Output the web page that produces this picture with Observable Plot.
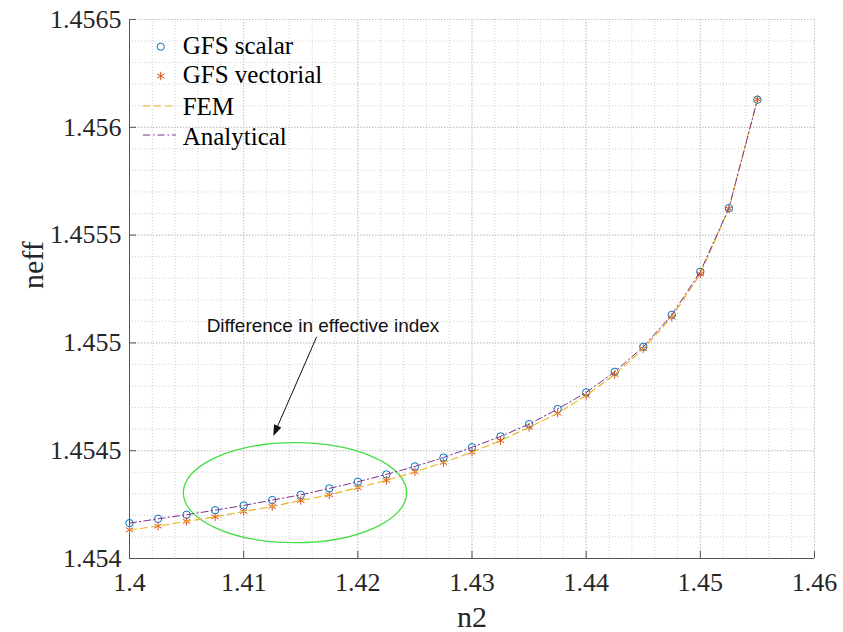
<!DOCTYPE html>
<html><head><meta charset="utf-8">
<script src="https://cdn.jsdelivr.net/npm/d3@7"></script>
<script src="https://cdn.jsdelivr.net/npm/@observablehq/plot@0.6"></script>
<style>body{margin:0;background:#fff} #chart{position:relative;width:843px;height:632px}</style>
</head><body><div id="chart"></div>
<script>
// ---- data ----
const n2 = [1.4, 1.4025, 1.405, 1.4075, 1.41, 1.4125, 1.415, 1.4175, 1.42, 1.4225, 1.425, 1.4275,
            1.43, 1.4325, 1.435, 1.4375, 1.44, 1.4425, 1.445, 1.4475, 1.45, 1.4525, 1.455];
const neffScalar = [1.454164, 1.454184, 1.454203, 1.454224, 1.454246, 1.454271, 1.454295, 1.454325,
                    1.454356, 1.454390, 1.454427, 1.454468, 1.454516, 1.454566, 1.454623, 1.454693,
                    1.454770, 1.454866, 1.454982, 1.455130, 1.455330, 1.455625, 1.456128];
const neffVectorial = [1.454133, 1.454150, 1.454172, 1.454193, 1.454218, 1.454241, 1.454269, 1.454295,
                       1.454329, 1.454362, 1.454402, 1.454445, 1.454493, 1.454547, 1.454608, 1.454674,
                       1.454756, 1.454853, 1.454973, 1.455119, 1.455320, 1.455622, 1.456130];
const neffFEM = [1.454133, 1.454150, 1.454172, 1.454193, 1.454218, 1.454241, 1.454269, 1.454295,
                 1.454329, 1.454362, 1.454402, 1.454445, 1.454493, 1.454547, 1.454608, 1.454674,
                 1.454756, 1.454853, 1.454973, 1.455119, 1.455320, 1.455622, 1.456130];
const neffAnalytical = [1.454164, 1.454184, 1.454203, 1.454224, 1.454246, 1.454271, 1.454295, 1.454325,
                        1.454356, 1.454390, 1.454427, 1.454468, 1.454516, 1.454566, 1.454623, 1.454693,
                        1.454770, 1.454866, 1.454982, 1.455130, 1.455330, 1.455625, 1.456128];
const xTicks = [1.4, 1.41, 1.42, 1.43, 1.44, 1.45, 1.46];
const yTicks = [1.454, 1.4545, 1.455, 1.4555, 1.456, 1.4565];
const xTickLabels = ["1.4", "1.41", "1.42", "1.43", "1.44", "1.45", "1.46"];
const yTickLabels = ["1.454", "1.4545", "1.455", "1.4555", "1.456", "1.4565"];
const seriesNames = ["GFS scalar", "GFS vectorial", "FEM", "Analytical"];
const annotationText = "Difference in effective index";
const ellipseCenter = [1.41454, 1.454303];
const ellipseRadii = [0.00978, 0.000232];
const arrowFrom = [1.41644, 1.455026];
const arrowTo = [1.41264, 1.454566];
const annotationPos = [1.41695, 1.455081];

// ---- build ----
const rows = n2.map((x, i) => ({x, scalar: neffScalar[i], vectorial: neffVectorial[i], fem: neffFEM[i], analytical: neffAnalytical[i]}));
const serif = "'Liberation Serif','Times New Roman',serif";
const sans = "'Liberation Sans',Arial,sans-serif";
const C = {scalar: "#0072BD", vectorial: "#D95319", fem: "#EDB120", analytical: "#7E2F8E"};
const W = 843, H = 632, ML = 129, MR = 29, MT = 19, MB = 74;
const FW = W - ML - MR, FH = H - MT - MB;
const xMinor = d3.range(0, 31).map(i => 1.4 + i * 0.002);
const yMinor = d3.range(0, 26).map(i => 1.454 + i * 0.0001);
const FEMDASH = "7,4", ANADASH = "7,3,1.5,3";

function annotationShapes(index, scales) {
  const g = d3.create("svg:g");
  const x = scales.x, y = scales.y;
  const cx = x(ellipseCenter[0]), cy = y(ellipseCenter[1]);
  const rx = x(ellipseCenter[0] + ellipseRadii[0]) - cx;
  const ry = cy - y(ellipseCenter[1] + ellipseRadii[1]);
  g.append("ellipse").attr("cx", cx).attr("cy", cy).attr("rx", rx).attr("ry", ry)
    .attr("fill", "none").attr("stroke", "#45dd45").attr("stroke-width", 1.3);
  const x1 = x(arrowFrom[0]), y1 = y(arrowFrom[1]), x2 = x(arrowTo[0]), y2 = y(arrowTo[1]);
  const ang = Math.atan2(y2 - y1, x2 - x1), L = 11, Wd = 4;
  const bx = x2 - L * Math.cos(ang), by = y2 - L * Math.sin(ang);
  g.append("line").attr("x1", x1).attr("y1", y1).attr("x2", bx).attr("y2", by)
    .attr("stroke", "#111").attr("stroke-width", 1);
  const px = -Math.sin(ang) * Wd, py = Math.cos(ang) * Wd;
  g.append("path").attr("d", `M${x2},${y2}L${bx + px},${by + py}L${bx - px},${by - py}Z`).attr("fill", "#111");
  return g.node();
}

function legend() {
  const g = d3.create("svg:g").attr("font-family", serif).attr("font-size", 25).attr("fill", "#000")
    .attr("text-anchor", "start");
  const mx = 160.7, tx = 182.7, lx1 = 143, lx2 = 176;
  g.append("circle").attr("cx", mx).attr("cy", 46.7).attr("r", 3.6).attr("fill", "none").attr("stroke", C.scalar);
  g.append("text").attr("x", tx).attr("y", 54.3).text(seriesNames[0]);
  g.append("path").attr("transform", `translate(${mx},76)`).attr("d", d3.symbol(d3.symbolAsterisk, Math.PI * 16)())
    .attr("fill", "none").attr("stroke", C.vectorial);
  g.append("text").attr("x", tx).attr("y", 83.3).text(seriesNames[1]);
  g.append("line").attr("x1", lx1).attr("x2", lx2).attr("y1", 106).attr("y2", 106)
    .attr("stroke", C.fem).attr("stroke-dasharray", FEMDASH);
  g.append("text").attr("x", tx).attr("y", 115).text(seriesNames[2]);
  g.append("line").attr("x1", lx1).attr("x2", lx2).attr("y1", 135).attr("y2", 135)
    .attr("stroke", C.analytical).attr("stroke-dasharray", ANADASH);
  g.append("text").attr("x", tx).attr("y", 144.5).text(seriesNames[3]);
  return g.node();
}

const plot = Plot.plot({
  width: W, height: H, marginLeft: ML, marginRight: MR, marginTop: MT, marginBottom: MB,
  style: {fontFamily: serif, background: "#fff", color: "#262626", overflow: "visible"},
  x: {domain: [1.4, 1.46]},
  y: {domain: [1.454, 1.4565]},
  marks: [
    Plot.ruleX(xMinor, {x: d => d, stroke: "#cfcfcf", strokeDasharray: "1,2", strokeWidth: 1}),
    Plot.ruleY(yMinor, {y: d => d, stroke: "#cfcfcf", strokeDasharray: "1,2", strokeWidth: 1}),
    Plot.ruleX(xTicks, {x: d => d, stroke: "#c4c4c4", strokeDasharray: "1.5,1.5", strokeWidth: 1}),
    Plot.ruleY(yTicks, {y: d => d, stroke: "#c4c4c4", strokeDasharray: "1.5,1.5", strokeWidth: 1}),
    Plot.ruleX([1.4], {stroke: "#555"}),
    Plot.ruleY([1.454], {stroke: "#555"}),
    Plot.tickX(xTicks, {x: d => d, insetTop: FH - 7, stroke: "#555"}),
    Plot.tickY(yTicks, {y: d => d, insetRight: FW - 7, stroke: "#555"}),
    Plot.axisX(xTicks, {tickSize: 0, tickPadding: 14, fontSize: 26, fill: "#262626",
      tickFormat: (d, i) => xTickLabels[xTicks.indexOf(d)], label: null}),
    Plot.axisY(yTicks, {tickSize: 0, tickPadding: 8, fontSize: 26, fill: "#262626",
      tickFormat: (d, i) => yTickLabels[yTicks.indexOf(d)], label: null}),
    Plot.text(["n2"], {frameAnchor: "bottom", lineAnchor: "bottom", dy: 68, fontSize: 30, fill: "#262626"}),
    Plot.text(["neff"], {frameAnchor: "left", rotate: -90, dx: -96, fontSize: 30, fill: "#262626"}),
    annotationShapes,
    Plot.dot(rows, {x: "x", y: "scalar", r: 3.7, stroke: C.scalar, fill: "none", strokeWidth: 1}),
    Plot.dot(rows, {x: "x", y: "vectorial", symbol: "asterisk", r: 4, stroke: C.vectorial, strokeWidth: 1}),
    Plot.line(rows, {x: "x", y: "fem", stroke: C.fem, strokeWidth: 1.1, strokeDasharray: FEMDASH}),
    Plot.line(rows, {x: "x", y: "analytical", stroke: C.analytical, strokeWidth: 1, strokeDasharray: ANADASH}),
    Plot.text([annotationText], {x: () => annotationPos[0], y: () => annotationPos[1], fontFamily: sans, fontSize: 19, fill: "#111"}),
    legend
  ]
});
document.getElementById("chart").appendChild(plot);
</script></body></html>
